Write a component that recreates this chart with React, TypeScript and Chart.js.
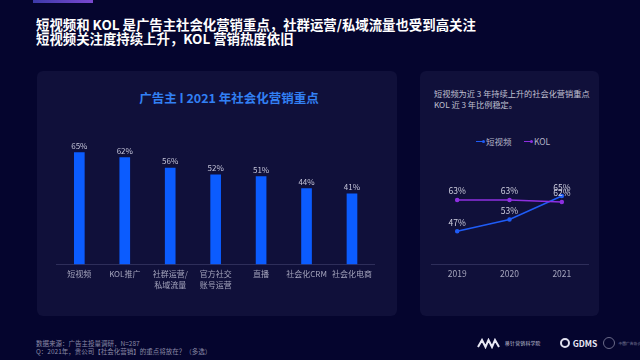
import React, { useEffect, useRef } from "react";
import { Chart, registerables } from "chart.js";

Chart.register(...registerables);

const FONT = "'Noto Sans CJK SC', 'Noto Sans', sans-serif";

const titleLines = [
  "短视频和 KOL 是广告主社会化营销重点，社群运营/私域流量也受到高关注",
  "短视频关注度持续上升，KOL 营销热度依旧",
];
const barTitle = "广告主 I 2021 年社会化营销重点";
const barCategories = [
  ["短视频"],
  ["KOL推广"],
  ["社群运营/", "私域流量"],
  ["官方社交", "账号运营"],
  ["直播"],
  ["社会化CRM"],
  ["社会化电商"],
];
const barValues = [65, 62, 56, 52, 51, 44, 41];

const noteLines = ["短视频为近 3 年持续上升的社会化营销重点", "KOL 近 3 年比例稳定。"];
const years = ["2019", "2020", "2021"];
const seriesNames = ["短视频", "KOL"];
const shortVideoValues = [47, 53, 65];
const kolValues = [63, 63, 62];

const footerLines = ["数据来源：广告主投量调研，N=287", "Q：2021年，贵公司【社会化营销】的重点将放在？（多选）"];

const BLUE = "#0b5cff";
const LINE_BLUE = "#1f5cf6";
const PURPLE = "#8d2fe0";

const valueLabelPlugin = {
  id: "valueLabels",
  afterDatasetsDraw(chart: any, _args: any, opts: any) {
    const ctx = chart.ctx;
    ctx.save();
    ctx.font = `${opts.size || 8}px ${FONT}`;
    ctx.fillStyle = opts.color || "#c8c8dc";
    ctx.textAlign = "center";
    ctx.textBaseline = "middle";
    chart.data.datasets.forEach((ds: any, i: number) => {
      const meta = chart.getDatasetMeta(i);
      meta.data.forEach((el: any, j: number) => {
        ctx.fillText(`${ds.data[j]}%`, el.x, el.y - (opts.offset || 7));
      });
    });
    ctx.restore();
  },
};

function BarChart() {
  const ref = useRef<HTMLCanvasElement>(null);
  useEffect(() => {
    const chart = new Chart(ref.current as HTMLCanvasElement, {
      type: "bar",
      data: {
        labels: barCategories as any,
        datasets: [{ data: barValues, backgroundColor: BLUE, barThickness: 10 }],
      },
      options: {
        animation: false,
        responsive: false,
        layout: { padding: { left: 19.6, right: 22.3, top: 16.7, bottom: 0 } },
        plugins: {
          legend: { display: false },
          tooltip: { enabled: false },
          valueLabels: { size: 8, color: "#c4c4d8", offset: 7 },
        } as any,
        scales: {
          x: {
            grid: { display: true, drawOnChartArea: false, drawTicks: false },
            border: { display: true, color: "#2e2e5a" },
            ticks: {
              color: "#a4a4bc",
              font: { size: 8, family: FONT, lineHeight: 1.375 },
              padding: 4.2,
              maxRotation: 0,
              autoSkip: false,
            },
            afterFit: (s: any) => {
              s.height = 45.7;
            },
          },
          y: { display: false, min: 0, max: 80 },
        },
      },
      plugins: [valueLabelPlugin],
    });
    return () => chart.destroy();
  }, []);
  return (
    <canvas
      ref={ref}
      width={360}
      height={200}
      style={{ position: "absolute", left: 37, top: 110, width: 360, height: 200 }}
    />
  );
}

function LineChart() {
  const ref = useRef<HTMLCanvasElement>(null);
  useEffect(() => {
    const chart = new Chart(ref.current as HTMLCanvasElement, {
      type: "line",
      data: {
        labels: years,
        datasets: [
          {
            label: seriesNames[1],
            data: kolValues,
            borderColor: PURPLE,
            backgroundColor: PURPLE,
            borderWidth: 1.5,
            pointRadius: 1.5,
          },
          {
            label: seriesNames[0],
            data: shortVideoValues,
            borderColor: LINE_BLUE,
            backgroundColor: LINE_BLUE,
            borderWidth: 1.5,
            pointRadius: 1.5,
          },
        ],
      },
      options: {
        animation: false,
        responsive: false,
        layout: { padding: { left: 11, right: 12, top: 16.8, bottom: 0 } },
        plugins: {
          legend: { display: false },
          tooltip: { enabled: false },
          valueLabels: { size: 8.5, color: "#d0d0e0", offset: 8.7 },
        } as any,
        scales: {
          x: {
            offset: true,
            grid: { display: true, drawOnChartArea: false, drawTicks: false },
            border: { display: true, color: "#2e2e5a" },
            ticks: { color: "#a4a4bc", font: { size: 8.5, family: FONT }, padding: 4.5, maxRotation: 0 },
            afterFit: (s: any) => {
              s.height = 45.7;
            },
          },
          y: { display: false, min: 30, max: 80 },
        },
      },
      plugins: [valueLabelPlugin],
    });
    return () => chart.destroy();
  }, []);
  return (
    <canvas
      ref={ref}
      width={180}
      height={160}
      style={{ position: "absolute", left: 420, top: 150, width: 180, height: 160 }}
    />
  );
}

function LegendItem({ color, label, left }: { color: string; label: string; left: number }) {
  return (
    <div style={{ position: "absolute", left, top: 136, height: 11, display: "flex", alignItems: "center" }}>
      <div style={{ width: 7, height: 1.5, background: color }} />
      <div style={{ width: 3, height: 3, borderRadius: 2, background: color, marginLeft: -1 }} />
      <span style={{ marginLeft: 1, fontSize: 8.5, lineHeight: "11px", color: "#b4b4c8" }}>{label}</span>
    </div>
  );
}

const noShrink = { flexShrink: 0, whiteSpace: "nowrap" as const };

function Logos() {
  return (
    <div
      style={{
        position: "absolute",
        left: 477,
        top: 336,
        width: 170,
        height: 14,
        display: "flex",
        alignItems: "center",
      }}
    >
      <svg width="23" height="11" viewBox="0 0 23 11" style={noShrink}>
        <path d="M1 9 L5 2 L8.5 9 L11.5 2 L15 9 L18 2 L22 9" stroke="#e8e8f4" strokeWidth="2" fill="none" />
      </svg>
      <span style={{ ...noShrink, marginLeft: 5, fontSize: 4.8, lineHeight: "6px", color: "#c8c8dc", letterSpacing: 0.3 }}>
        移针营销科学院
      </span>
      <div
        style={{
          ...noShrink,
          marginLeft: 19,
          width: 10,
          height: 10,
          borderRadius: 5,
          border: "2px solid #e0e0ee",
          boxSizing: "border-box",
        }}
      />
      <span style={{ ...noShrink, marginLeft: 3, fontSize: 8.5, fontWeight: 700, color: "#e8e8f4" }}>GDMS</span>
      <div
        style={{
          ...noShrink,
          marginLeft: 6,
          width: 12,
          height: 12,
          borderRadius: 6,
          border: "1px solid #6a6a88",
          boxSizing: "border-box",
        }}
      />
      <span style={{ ...noShrink, marginLeft: 3, fontSize: 3.8, lineHeight: "5px", color: "#8a8aa4" }}>中国广告协会</span>
    </div>
  );
}

export default function App() {
  return (
    <div
      style={{
        position: "fixed",
        left: 0,
        top: 0,
        width: 640,
        height: 360,
        overflow: "hidden",
        background: "#05052e",
        fontFamily: FONT,
      }}
    >
      <div
        style={{
          position: "absolute",
          left: 33,
          top: 0,
          width: 60,
          height: 3,
          background: "linear-gradient(90deg, #3d3aa8, #7a48d0)",
        }}
      />
      {titleLines.map((t, i) => (
        <div
          key={i}
          style={{
            position: "absolute",
            left: 36,
            top: i === 0 ? 15.5 : 30,
            fontSize: 13.4,
            lineHeight: "17px",
            fontWeight: 700,
            color: "#ffffff",
            whiteSpace: "nowrap",
          }}
        >
          {t}
        </div>
      ))}

      <div
        style={{
          position: "absolute",
          left: 37,
          top: 71,
          width: 360,
          height: 245,
          borderRadius: 6,
          background: "#10103a",
        }}
      />
      <div
        style={{
          position: "absolute",
          left: 420,
          top: 71,
          width: 179,
          height: 245,
          borderRadius: 6,
          background: "#10103a",
        }}
      />

      <div
        style={{
          position: "absolute",
          left: 37,
          width: 384,
          top: 90,
          textAlign: "center",
          fontSize: 12.5,
          lineHeight: "16px",
          fontWeight: 700,
          color: "#3280f4",
          whiteSpace: "nowrap",
        }}
      >
        {barTitle}
      </div>
      <BarChart />

      {noteLines.map((t, i) => (
        <div
          key={i}
          style={{
            position: "absolute",
            left: 434,
            top: i === 0 ? 87.5 : 98.5,
            fontSize: 8.2,
            lineHeight: "11px",
            color: "#c0c0d2",
            whiteSpace: "nowrap",
          }}
        >
          {t}
        </div>
      ))}
      <LegendItem color={LINE_BLUE} label={seriesNames[0]} left={476} />
      <LegendItem color={PURPLE} label={seriesNames[1]} left={524} />
      <LineChart />

      {footerLines.map((t, i) => (
        <div
          key={i}
          style={{
            position: "absolute",
            left: 36,
            top: i === 0 ? 338.5 : 346.5,
            fontSize: 6.5,
            lineHeight: "9px",
            color: "#8a8aa6",
            whiteSpace: "nowrap",
          }}
        >
          {t}
        </div>
      ))}
      <Logos />
    </div>
  );
}
